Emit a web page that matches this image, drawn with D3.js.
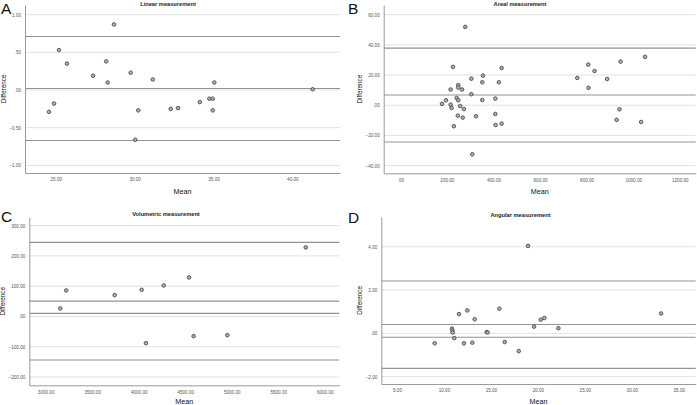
<!DOCTYPE html>
<html><head><meta charset="utf-8">
<script src="https://cdn.jsdelivr.net/npm/d3@7"></script>
<style>
html,body{margin:0;padding:0;background:#fff;}
svg{display:block;font-family:"Liberation Sans",Arial,sans-serif;}
</style></head>
<body>
<svg id="chart" width="697" height="405"></svg>
<script>
// ---------- Panel A: Linear measurement ----------
const linearMean = [24.57,24.89,25.2,25.71,27.36,28.2,28.29,28.69,29.75,30.23,30.04,31.15,32.29,32.75,34.13,34.74,34.95,34.95,35.05,41.29];
const linearDiff = [-0.29,-0.18,0.53,0.35,0.19,0.38,0.10,0.87,0.23,-0.27,-0.66,0.14,-0.25,-0.24,-0.16,-0.115,-0.115,-0.27,0.10,0.01];
const linearRefs = [0.71, 0.02, -0.67];
const linearXTicks = [25,30,35,40];
const linearYTicks = [1,0.5,0,-0.5,-1];

// ---------- Panel B: Areal measurement ----------
const arealMean = [279,226,435,355,305,352,423,249,249,216,265,305,242,249,196,352,408,179,216,220,257,273,408,247,325,268,409,435,230,309,1051,946,807,834,760,888,808,941,929,1034];
const arealDiff = [51.9,25.4,24.7,19.6,17.6,15.2,15.2,13.3,11.7,10.4,10.4,7.3,4.8,3.3,3.3,3.5,4.4,0.9,0.4,-1.8,-0.5,-2.5,-5.8,-6.9,-7.3,-8.2,-13.1,-12.2,-13.9,-32.5,32.0,28.9,26.9,22.7,18.1,17.4,11.5,-2.7,-9.7,-11.1];
const arealRefs = [37.8, 6.8, -24.4];
const arealXTicks = [0,200,400,600,800,1000,1200];
const arealYTicks = [60,40,20,0,-20,-40];

// ---------- Panel C: Volumetric measurement ----------
const volMean = [3157,3221,3742,4032,4078,4269,4541,4591,4953,5796];
const volDiff = [26.4,85.9,70.4,87.9,-88.2,102.4,128.8,-65.1,-61.8,228];
const volRefs = [244.5, 50.5, 10, -144];
const volXTicks = [3000,3500,4000,4500,5000,5500,6000];
const volYTicks = [300,200,100,0,-100,-200];

// ---------- Panel D: Angular measurement ----------
const angMean = [9.01,10.86,10.9,10.93,11.1,11.6,12.13,12.49,13.02,13.27,14.55,14.65,15.9,16.47,17.96,18.95,19.59,20.3,20.69,22.18,33.12];
const angDiff = [-0.46,0.22,0.13,0.04,-0.22,0.89,-0.46,1.06,-0.43,0.65,0.06,0.04,1.14,-0.4,-0.82,4.04,0.31,0.63,0.71,0.24,0.92];
const angRefs = [2.42, 0.41, -0.18, -1.62];
const angXTicks = [5,10,15,20,25,30,35];
const angYTicks = [4,2,0,-2];

const panels = [
  {letter:"A", title:"Linear measurement", xs:linearMean, ys:linearDiff, refs:linearRefs, xTicks:linearXTicks, yTicks:linearYTicks,
   xDom:[23.05,43.02], yDom:[-1.101,1.128], box:{l:25,r:340,t:5,b:173}, titleX:168, titleY:5.8, letterX:1, letterY:14,
   yLabX:6, xLabY:194},
  {letter:"B", title:"Areal measurement", xs:arealMean, ys:arealDiff, refs:arealRefs, xTicks:arealXTicks, yTicks:arealYTicks,
   xDom:[-71.3,1268.3], yDom:[-45.1,66.4], box:{l:383.7,r:695.7,t:5,b:173.3}, titleX:520, titleY:5.8, letterX:348, letterY:14,
   yLabX:361.5, xLabY:194},
  {letter:"C", title:"Volumetric measurement", xs:volMean, ys:volDiff, refs:volRefs, xTicks:volXTicks, yTicks:volYTicks,
   xDom:[2824,6157], yDom:[-227.4,327.4], box:{l:29.3,r:339.3,t:217.3,b:385.3}, titleX:166, titleY:215.5, letterX:1, letterY:222,
   yLabX:5, xLabY:404},
  {letter:"D", title:"Angular measurement", xs:angMean, ys:angDiff, refs:angRefs, xTicks:angXTicks, yTicks:angYTicks,
   xDom:[3.33,36.8], yDom:[-2.34,5.39], box:{l:381.3,r:695.7,t:216.7,b:384}, titleX:520.5, titleY:217, letterX:348, letterY:223,
   yLabX:361.5, xLabY:404}
];

function fmt(v){
  let s = d3.format(".2f")(v);
  return s.replace(/^(-?)0\./, "$1.");
}

const svg = d3.select("#chart");

panels.forEach(p => {
  const b = p.box;
  const x = d3.scaleLinear().domain(p.xDom).range([b.l, b.r]);
  const y = d3.scaleLinear().domain(p.yDom).range([b.b, b.t]);
  const g = svg.append("g");

  // gridlines
  g.append("g").selectAll("line").data(p.yTicks).join("line")
    .attr("x1", b.l).attr("x2", b.r)
    .attr("y1", d => y(d)).attr("y2", d => y(d))
    .attr("stroke", "#e2e2e2").attr("stroke-width", 1);

  // reference lines (mean / limits of agreement)
  g.append("g").selectAll("line").data(p.refs).join("line")
    .attr("x1", b.l).attr("x2", b.r)
    .attr("y1", d => y(d)).attr("y2", d => y(d))
    .attr("stroke", "#939393").attr("stroke-width", 1.1);

  // axes via d3 axis
  const yAxis = d3.axisLeft(y).tickValues(p.yTicks).tickFormat(fmt).tickSize(0).tickPadding(4);
  const xAxis = d3.axisBottom(x).tickValues(p.xTicks).tickFormat(fmt).tickSize(0).tickPadding(5);
  const ya = g.append("g").attr("transform", `translate(${b.l},0)`).call(yAxis);
  const xa = g.append("g").attr("transform", `translate(0,${b.b})`).call(xAxis);
  [ya, xa].forEach(a => {
    a.select(".domain").attr("stroke", "#9a9a9a").attr("stroke-width", 1);
    a.selectAll("text").attr("font-size", 4.6).attr("fill", "#555")
      .attr("font-family", "'Liberation Sans',Arial,sans-serif");
  });

  // points
  g.append("g").selectAll("circle").data(p.xs.map((m,i) => [m, p.ys[i]])).join("circle")
    .attr("cx", d => x(d[0])).attr("cy", d => y(d[1])).attr("r", 1.8)
    .attr("fill", "#b0b0b0").attr("stroke", "#454545").attr("stroke-width", 0.85);

  // titles and labels
  g.append("text").attr("x", p.titleX).attr("y", p.titleY).attr("text-anchor", "middle")
    .attr("font-size", 5.7).attr("font-weight", "bold").attr("fill", "#222").text(p.title);
  g.append("text").attr("x", p.letterX).attr("y", p.letterY)
    .attr("font-size", 15.5).attr("fill", "#111").text(p.letter);
  g.append("text").attr("transform", `translate(${p.yLabX},${(b.t+b.b)/2}) rotate(-90)`)
    .attr("text-anchor", "middle").attr("font-size", 6.3).attr("fill", "#111").text("Difference");
  g.append("text").attr("x", (b.l+b.r)/2).attr("y", p.xLabY).attr("text-anchor", "middle")
    .attr("font-size", 7.2).attr("fill", "#111").text("Mean");
});
</script>
</body></html>
